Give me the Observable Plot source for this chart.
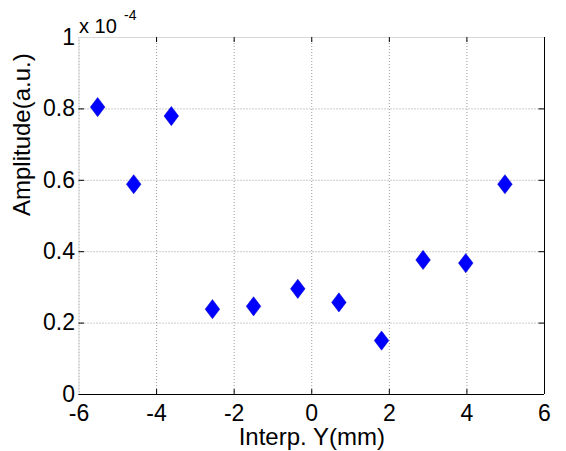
<!DOCTYPE html>
<html>
<head>
<meta charset="utf-8">
<script src="https://cdn.jsdelivr.net/npm/d3@7"></script>
<script src="https://cdn.jsdelivr.net/npm/@observablehq/plot@0.6"></script>
<style>
  html, body { margin: 0; padding: 0; background: #fff; }
  svg { display: block; }
</style>
</head>
<body>
<div id="chart"></div>
<script>
// Interp. Y position (mm)
const positions = [-5.52, -4.59, -3.62, -2.56, -1.50, -0.36, 0.70, 1.80, 2.87, 3.97, 4.98];
// Amplitude in units of 1e-4 (a.u.)
const amplitudes = [0.805, 0.589, 0.780, 0.239, 0.247, 0.296, 0.258, 0.151, 0.377, 0.368, 0.589];
const xTicks = [-6, -4, -2, 0, 2, 4, 6];
const yTicks = [0, 0.2, 0.4, 0.6, 0.8, 1];
const xDomain = [-6, 6];
const yDomain = [0, 1];

const data = positions.map((x, i) => ({x, y: amplitudes[i]}));

const tallDiamond = {
  draw(ctx, size) {
    const r = Math.sqrt(size / Math.PI);
    const w = r * 0.76;
    ctx.moveTo(0, -r);
    ctx.lineTo(w, 0);
    ctx.lineTo(0, r);
    ctx.lineTo(-w, 0);
    ctx.closePath();
  }
};

const font = "'Liberation Sans', Arial, Helvetica, sans-serif";

const chart = Plot.plot({
  width: 566,
  height: 451,
  marginLeft: 78.5,
  marginRight: 22,
  marginTop: 37,
  marginBottom: 57,
  style: {fontFamily: font, background: "#fff", color: "#000"},
  x: {domain: xDomain, ticks: xTicks},
  y: {domain: yDomain, ticks: yTicks},
  marks: [
    Plot.gridX(xTicks, {stroke: "#999", strokeOpacity: 1, strokeDasharray: "1,2"}),
    Plot.gridY(yTicks, {stroke: "#999", strokeOpacity: 1, strokeDasharray: "1,2"}),
    Plot.ruleX([xDomain[0]], {stroke: "#d8d8d8"}),
    Plot.ruleY([yDomain[1]], {stroke: "#d8d8d8"}),
    Plot.ruleX([xDomain[1]], {stroke: "#000"}),
    Plot.ruleY([yDomain[0]], {stroke: "#000"}),
    Plot.axisX(xTicks, {anchor: "bottom", tickSize: 0, tickPadding: 10, fontSize: 23, label: null, tickFormat: d => String(d)}),
    Plot.axisY(yTicks, {anchor: "left", tickSize: 0, tickPadding: 4, fontSize: 23, label: null, tickFormat: d => String(d)}),
    Plot.tickX(xTicks.slice(1, -1), {x: d => d, stroke: "#000", insetTop: 352}),
    Plot.tickX(xTicks.slice(1, -1), {x: d => d, stroke: "#000", insetBottom: 352}),
    Plot.tickY(yTicks.slice(1, -1), {y: d => d, stroke: "#000", insetRight: 460}),
    Plot.tickY(yTicks.slice(1, -1), {y: d => d, stroke: "#000", insetLeft: 460}),
    Plot.dot(data, {x: "x", y: "y", symbol: tallDiamond, r: 9.6, fill: "#0000ff", stroke: "#0000cc", strokeWidth: 0.5}),
    Plot.text(["Interp. Y(mm)"], {frameAnchor: "bottom", dy: 50, lineAnchor: "bottom", fontSize: 24, fill: "#000"}),
    Plot.text(["Amplitude(a.u.)"], {frameAnchor: "left", dx: -49, rotate: -90, lineAnchor: "bottom", fontSize: 24, fill: "#000"}),
    Plot.text(["x 10"], {frameAnchor: "top-left", dx: 0, dy: -5, textAnchor: "start", lineAnchor: "bottom", fontSize: 20, fill: "#000"}),
    Plot.text(["-4"], {frameAnchor: "top-left", dx: 45, dy: -18, textAnchor: "start", lineAnchor: "bottom", fontSize: 14, fill: "#000"})
  ]
});

document.getElementById("chart").appendChild(chart);
</script>
</body>
</html>
